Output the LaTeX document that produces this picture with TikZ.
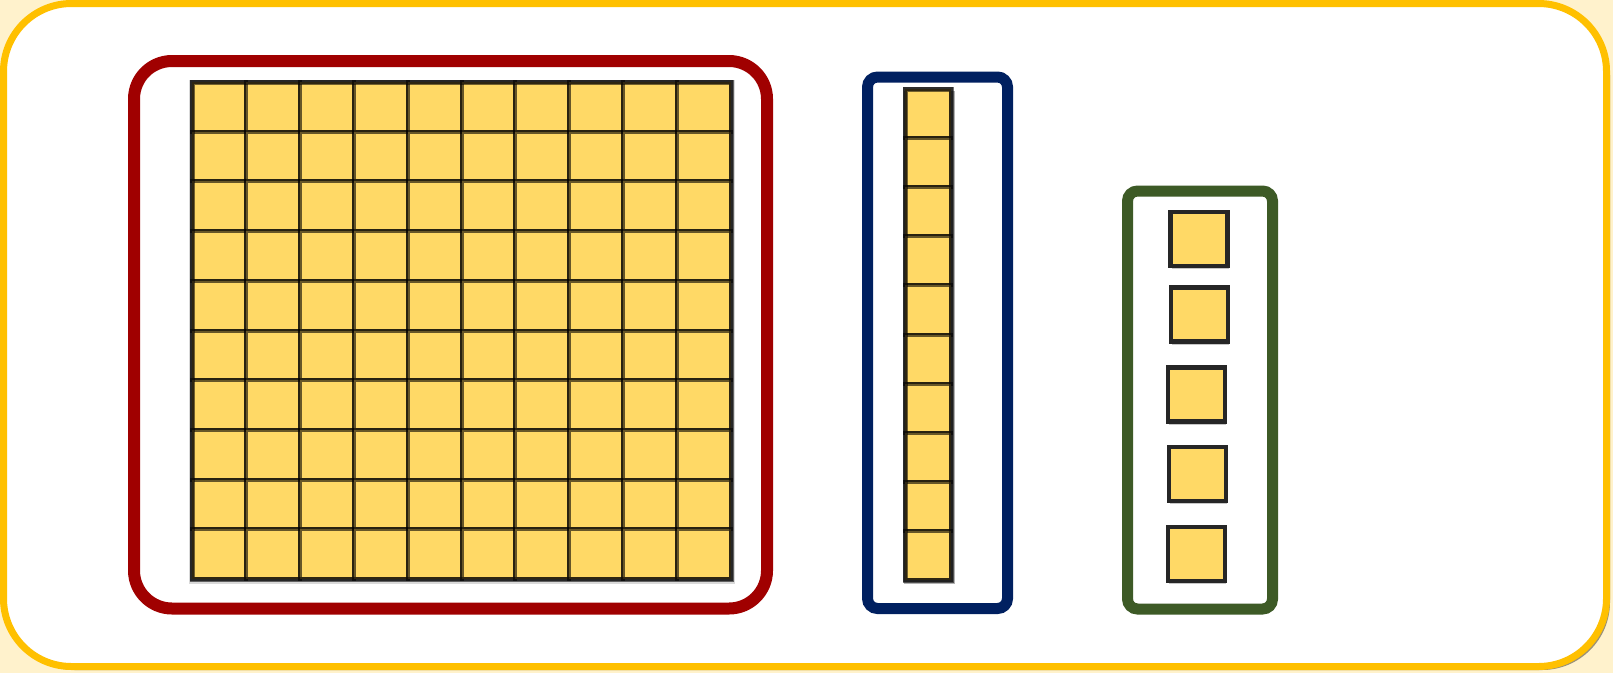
\documentclass[tikz,border=0pt]{standalone}
\usetikzlibrary{shadows}
\definecolor{frameyellow}{HTML}{FFC000}
\definecolor{bgcream}{HTML}{FFF2CC}
\definecolor{cubegold}{HTML}{FFD966}
\definecolor{hundredred}{HTML}{A00000}
\definecolor{tenblue}{HTML}{002060}
\definecolor{onegreen}{HTML}{3D5A26}
\begin{document}
\begin{tikzpicture}[x=1pt, y=-1pt,
  frame/.style 2 args={draw=#1, line width=#2, fill=white},
  cell/.style={draw=black, draw opacity=0.6, line width=4pt, fill=cubegold},
  rim/.style={draw=black, draw opacity=0.55, line width=5pt},
  unit/.style={draw=black!85, line width=4.5pt, fill=cubegold, inner sep=0pt,
               minimum width=57pt, minimum height=54pt,
               drop shadow={shadow xshift=1pt, shadow yshift=-3pt, fill=black!22, opacity=1}}
]
  % page and outer frame
  \fill[bgcream] (0,0) rectangle (1613,673);
  \useasboundingbox (0,0) rectangle (1613,673);
  \fill[black!40!bgcream, rounded corners=68pt] (7,8) rectangle (1610,670);
  \draw[frame={frameyellow}{7pt}, rounded corners=68pt] (3.5,3.5) rectangle (1606.5,666.5);

  % hundreds, tens, ones
  \draw[frame={hundredred}{12pt}, rounded corners=38pt] (134,61) rectangle (767,608.5);
  \draw[frame={tenblue}{11pt}, rounded corners=10pt] (867.5,77) rectangle (1007.5,608.5);
  \draw[frame={onegreen}{11pt}, rounded corners=10pt] (1127.5,191) rectangle (1272.5,609);

  % flat of 100
  \fill[black!15] (189,80) rectangle (735,584);
  \foreach \i in {0,...,9}
    \foreach \j in {0,...,9}
      \draw[cell] ({192+53.9*\i},{82+49.7*\j}) rectangle ++(53.9,49.7);
  \draw[rim] (192,82) rectangle (731,579);

  % rod of 10
  \fill[black!30] (904,91) rectangle (955,584);
  \foreach \j in {0,...,9}
    \draw[cell] (905,{89+49.1*\j}) rectangle ++(46,49.1);
  \draw[rim] (905,89) rectangle (951,580);

  % ones
  \node[unit] (one1) at (1199,239)   {};
  \node[unit] (one2) at (1199.5,314.5) {};
  \node[unit] (one3) at (1196.5,394.5) {};
  \node[unit] (one4) at (1197.5,474) {};
  \node[unit] (one5) at (1196.5,554) {};
\end{tikzpicture}
\end{document}
